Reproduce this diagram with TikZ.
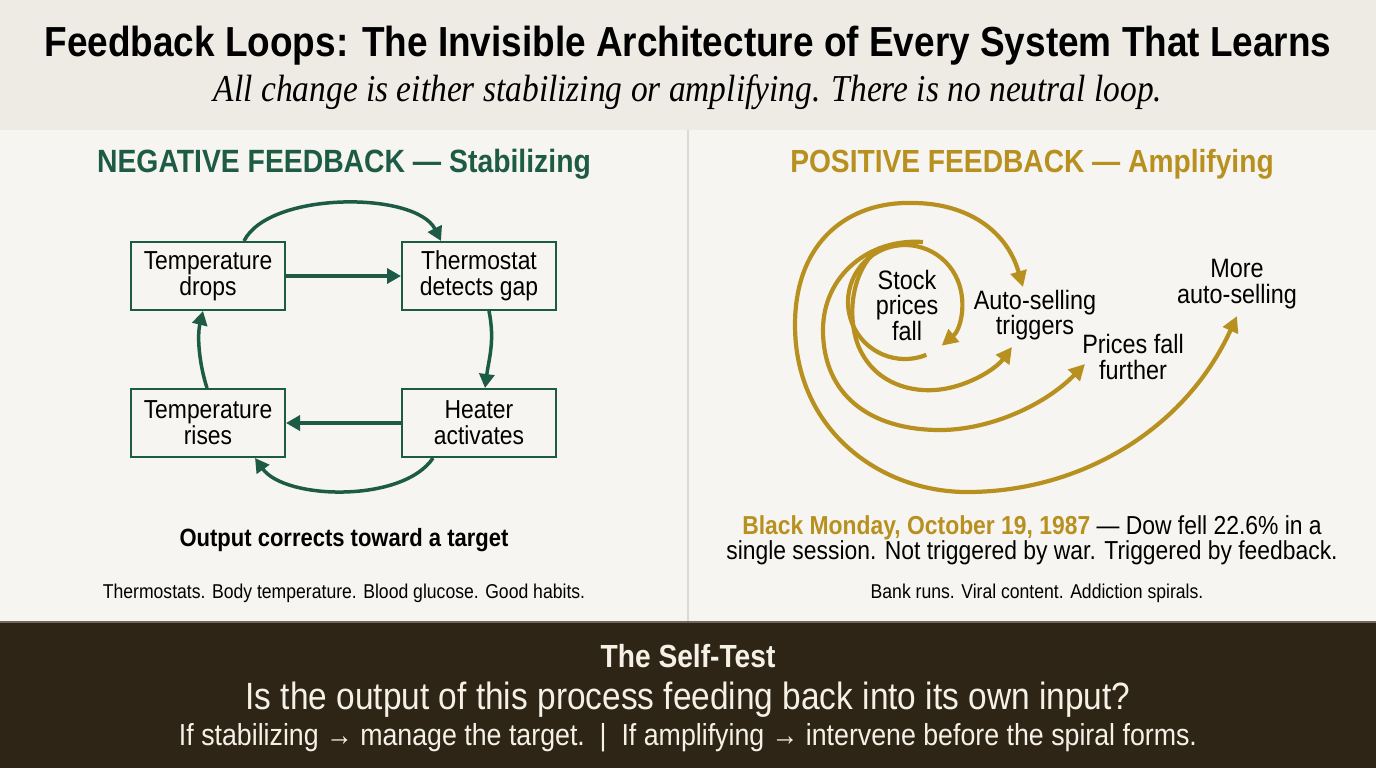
\documentclass[tikz,border=0pt]{standalone}
\usepackage{fontspec}
\setmainfont{Liberation Sans}[FakeStretch=0.88]
\newfontfamily\serifit{Liberation Serif}[FakeStretch=0.88]
\usetikzlibrary{arrows.meta,positioning,calc}
\definecolor{topbg}{HTML}{EEEBE4}
\definecolor{panelbg}{HTML}{F6F5F1}
\definecolor{darkbg}{HTML}{2F2516}
\definecolor{rulegray}{HTML}{DDDAD3}
\definecolor{loopgreen}{HTML}{1E5B47}
\definecolor{loopgold}{HTML}{B8901F}
\definecolor{creamtext}{HTML}{F6F1E7}
\tikzset{
  stepbox/.style={draw=loopgreen, line width=1pt, fill=panelbg,
                  minimum width=77pt, minimum height=34pt, inner sep=2pt,
                  align=center, font=\fontsize{13}{13}\selectfont},
  negarrow/.style={draw=loopgreen, line width=1.75pt, -{Triangle[length=7pt,width=7.5pt]}},
  posarrow/.style={draw=loopgold, line width=2.1pt, -{Triangle[length=8pt,width=8pt]}},
  lbl/.style={align=center, font=\fontsize{13.3}{12.75}\selectfont},
  note/.style={font=\fontsize{10}{12}\selectfont}
}
\begin{document}
\begin{tikzpicture}[x=0.5pt,y=-0.5pt]
  \useasboundingbox (0,0) rectangle (1376,768);
  % background bands
  \fill[topbg] (0,0) rectangle (1376,130);
  \fill[panelbg] (0,130) rectangle (1376,622);
  \fill[darkbg] (0,622) rectangle (1376,768);
  \draw[rulegray, line width=1pt] (688,130) -- (688,622);
  \draw[darkbg!70!white, line width=0.6pt] (0,622) -- (1376,622);

  % header
  \node[font=\fontsize{21}{24}\selectfont\bfseries] (title) at (688,46)
    {Feedback Loops: The Invisible Architecture of Every System That Learns};
  \node[font=\fontsize{19}{21}\serifit\itshape] (subtitle) at (688,92)
    {All change is either stabilizing or amplifying. There is no neutral loop.};

  % negative feedback
  \node[text=loopgreen, font=\fontsize{16.1}{18}\selectfont\bfseries] (neghead) at (344,164)
    {NEGATIVE FEEDBACK — Stabilizing};
  \node[stepbox] (drops) at (208,276) {Temperature\\drops};
  \node[stepbox] (thermo) at (479,276) {Thermostat\\detects gap};
  \node[stepbox] (rises) at (208,423) {Temperature\\rises};
  \node[stepbox] (heater) at (479,423) {Heater\\activates};
  \draw[negarrow] (drops) -- (thermo);
  \draw[negarrow] (heater) -- (rises);
  \draw[negarrow] ([xshift=18pt]drops.north) .. controls +(25,-50) and +(-25,-50) .. ([xshift=-19pt]thermo.north);
  \draw[negarrow] ([xshift=5pt]thermo.south) .. controls +(6,30) and +(4,-30) .. ([xshift=3pt]heater.north);
  \draw[negarrow] ([xshift=-23pt]heater.south) .. controls +(-30,45) and +(30,42) .. ([xshift=23.5pt]rises.south);
  \draw[negarrow] ([xshift=-0.5pt]rises.north) .. controls +(-8,-25) and +(-6,25) .. ([xshift=-2.5pt]drops.south);
  \node[font=\fontsize{12.5}{14}\selectfont\bfseries] (negsum) at (344,540) {Output corrects toward a target};
  \node[note] (negex) at (344,593) {Thermostats. Body temperature. Blood glucose. Good habits.};

  % positive feedback
  \node[text=loopgold, font=\fontsize{16}{18}\selectfont\bfseries] (poshead) at (1032,164)
    {POSITIVE FEEDBACK — Amplifying};
  \node[lbl] (stock) at (907,305) {Stock\\prices\\fall};
  \node[lbl] (autosell) at (1035,315) {Auto-selling\\triggers};
  \node[lbl] (further) at (1133,357) {Prices fall\\further};
  \node[lbl] (more) at (1237,284) {More\\auto-selling};
  \coordinate (hub) at (905,302);
  \draw[posarrow] (hub) ++(68:57) arc[start angle=68, end angle=410, radius=57];
  \draw[posarrow] (880,248) .. controls (855,265) and (845,310) .. (858,345)
    .. controls (872,380) and (905,392) .. (935,390)
    .. controls (965,388) and (995,370) .. (1012,347);
  \draw[posarrow] (923,242) .. controls (870,238) and (823,275) .. (823,330)
    .. controls (823,395) and (870,430) .. (940,430)
    .. controls (990,430) and (1045,405) .. (1085,364);
  \draw[posarrow, {Triangle[length=8pt,width=8pt]}-{Triangle[length=8pt,width=8pt]}]
    (1023,287) .. controls (1005,225) and (960,203) .. (913,203)
    .. controls (850,201) and (795,240) .. (795,325)
    .. controls (795,430) and (880,492) .. (967,492)
    .. controls (1080,492) and (1185,430) .. (1237,316);
  \node[align=center, font=\fontsize{13}{12.5}\selectfont] (crash) at (1032,540)
    {\textcolor{loopgold}{\bfseries Black Monday, October 19, 1987} — Dow fell 22.6\% in a\\
     single session. Not triggered by war. Triggered by feedback.};
  \node[note] (posex) at (1037,593) {Bank runs. Viral content. Addiction spirals.};

  % self-test band
  \node[text=creamtext, font=\fontsize{16}{18}\selectfont\bfseries] (testhead) at (688,656) {The Self-Test};
  \node[text=creamtext, font=\fontsize{19}{21}\selectfont] (testq) at (688,700)
    {Is the output of this process feeding back into its own input?};
  \node[text=creamtext, font=\fontsize{15.2}{17}\selectfont] (testrule) at (688,738)
    {If stabilizing → manage the target.\ \ |\ \ If amplifying → intervene before the spiral forms.};
\end{tikzpicture}
\end{document}
